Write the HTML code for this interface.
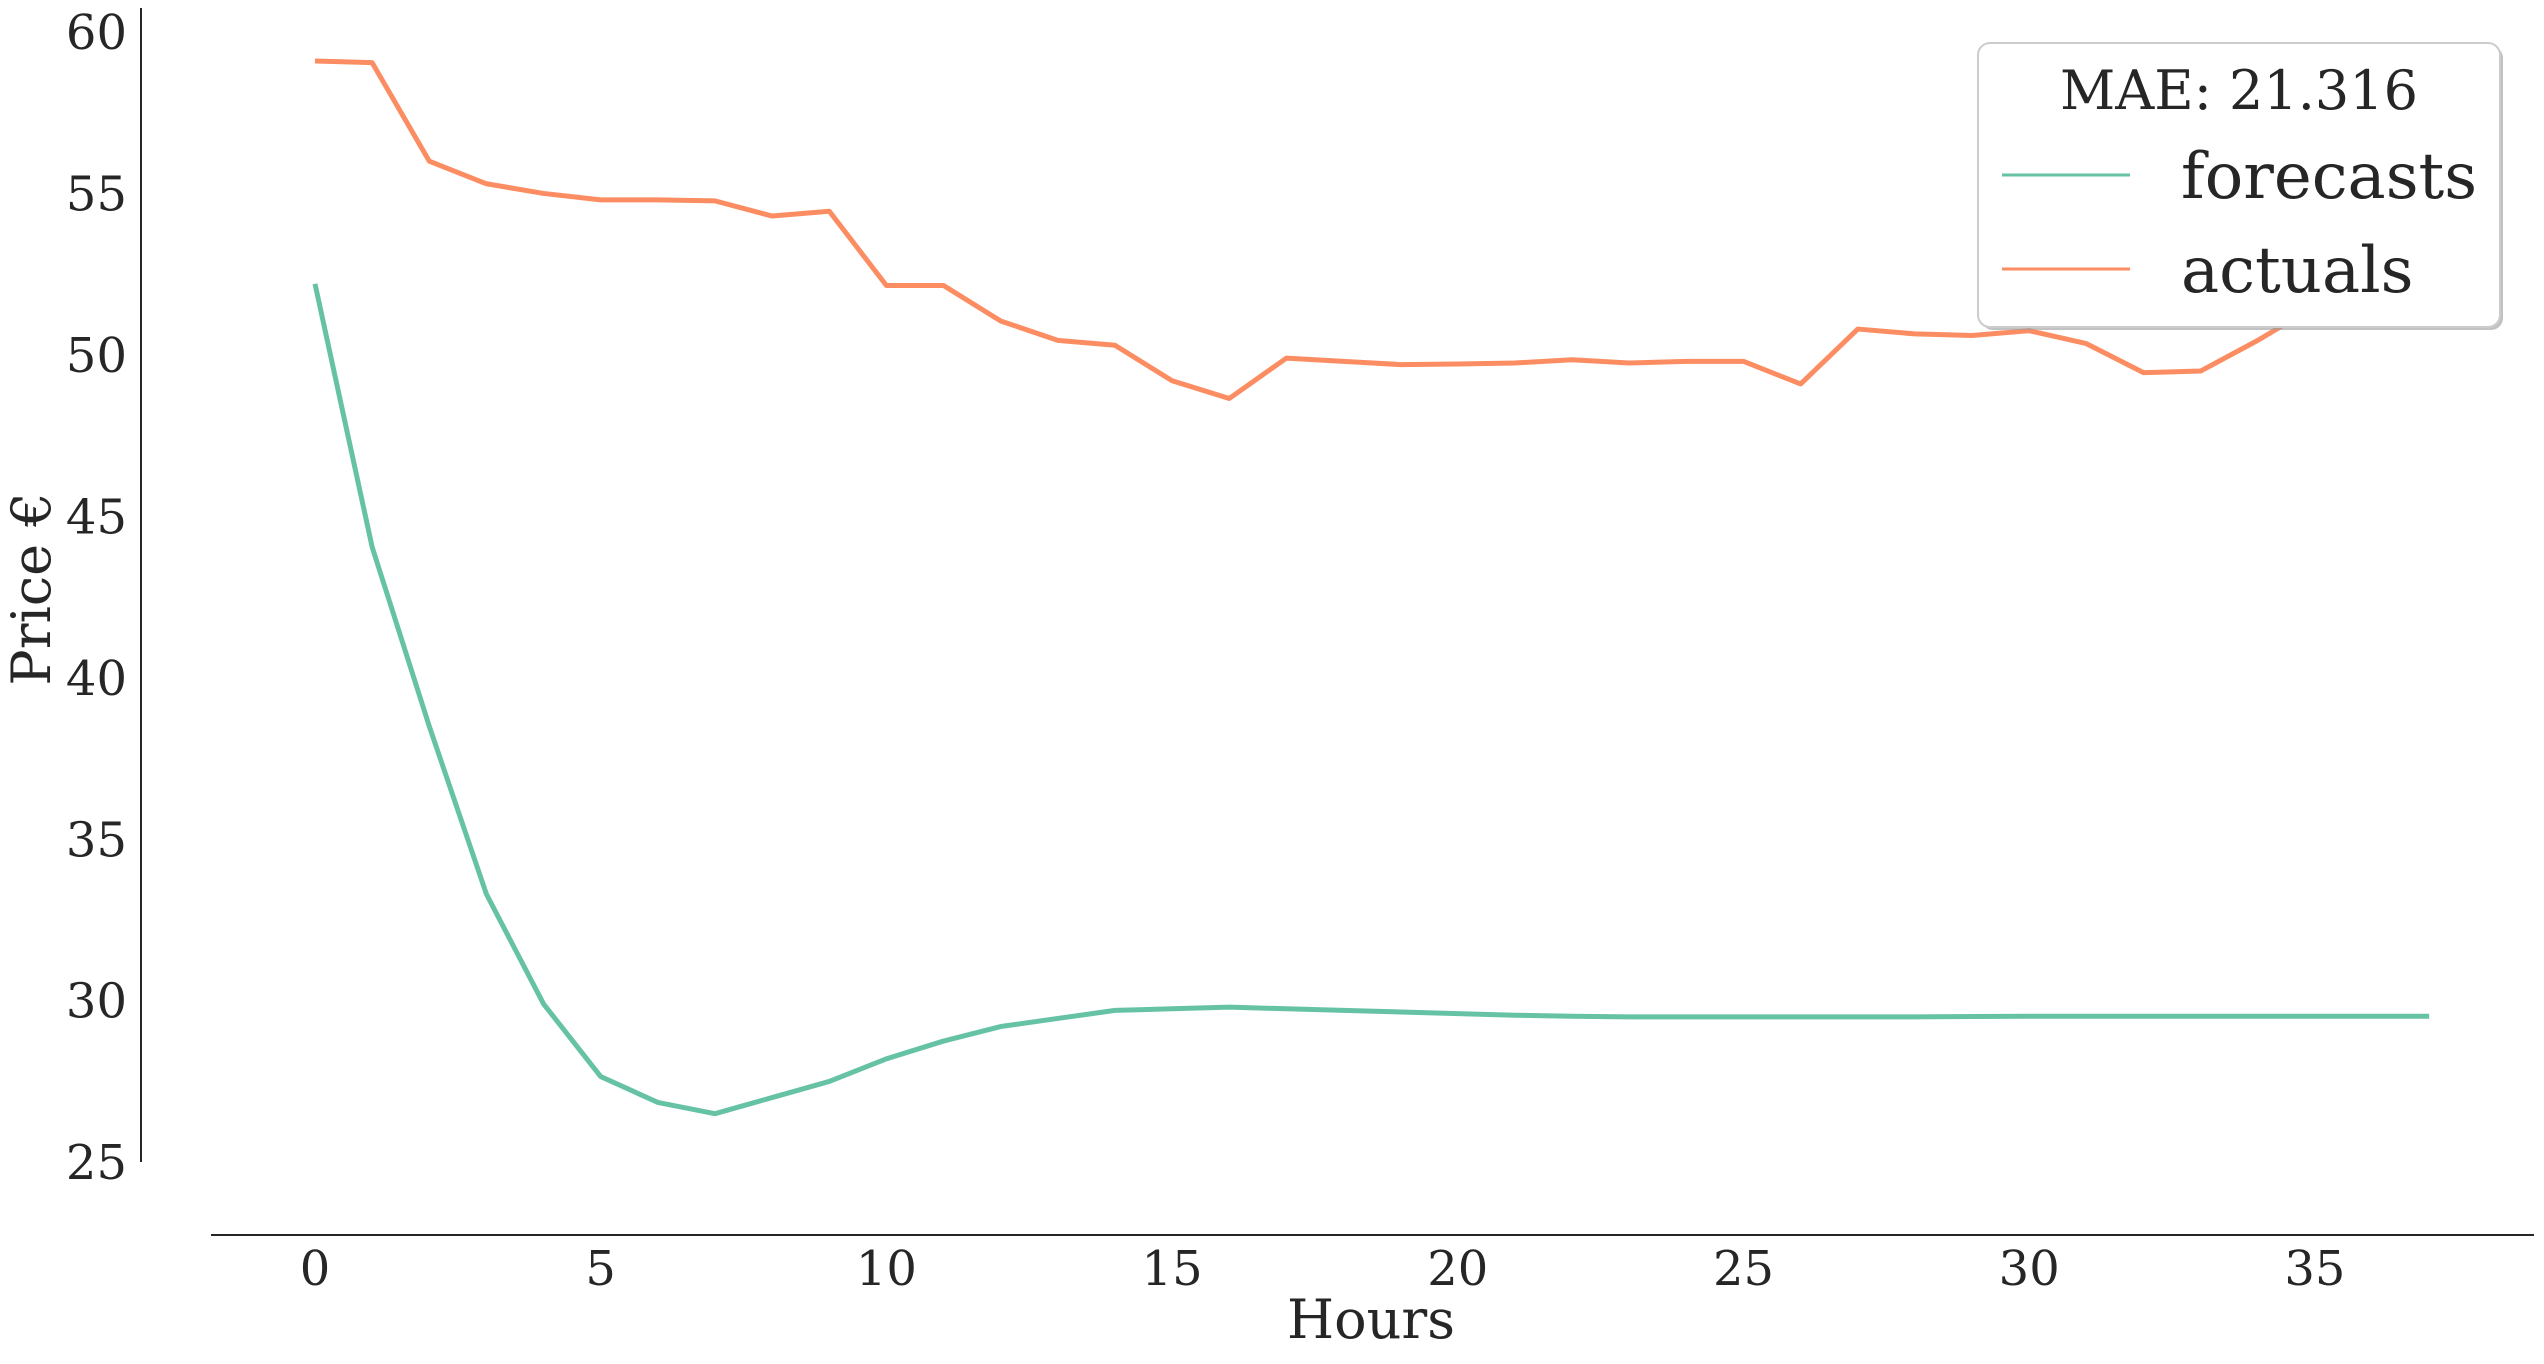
<!DOCTYPE html>
<html><head><meta charset="utf-8"><style>
body{margin:0;background:#fff}
svg text{font-family:"DejaVu Serif","Liberation Serif",serif;fill:#262626}
</style></head><body>
<svg id="chart" width="2544" height="1359" xmlns="http://www.w3.org/2000/svg">
<g id="axes"></g>
<g id="lines"></g>
<text x="1371" y="1338" font-size="54" text-anchor="middle">Hours</text>
<text transform="translate(50,589) rotate(-90)" font-size="54" text-anchor="middle">Price €</text>
<g>
<rect x="1981" y="46" width="522" height="284" rx="12" fill="#999" opacity="0.6"/>
<rect x="1978" y="43" width="522" height="284" rx="12" fill="#fff" stroke="#ccc" stroke-width="2"/>
<text x="2239" y="109" font-size="54" text-anchor="middle">MAE: 21.316</text>
<line x1="2002" y1="175" x2="2130" y2="175" stroke="#66c2a5" stroke-width="3"/>
<text x="2181" y="198" font-size="64">forecasts</text>
<line x1="2002" y1="269" x2="2130" y2="269" stroke="#fc8d62" stroke-width="3"/>
<text x="2181" y="292" font-size="64">actuals</text>
</g>
</svg>
<script>
const hours = Array.from({length:38},(_, i)=>i);
const forecasts = [52.2,44.05,38.5,33.3,29.9,27.65,26.85,26.5,27.0,27.5,28.2,28.75,29.2,29.45,29.7,29.75,29.8,29.75,29.7,29.65,29.6,29.55,29.52,29.5,29.5,29.5,29.5,29.5,29.5,29.51,29.52,29.52,29.52,29.52,29.52,29.52,29.52,29.52];
const actuals = [59.1,59.05,56.0,55.3,55.0,54.8,54.8,54.77,54.3,54.45,52.15,52.15,51.05,50.45,50.3,49.2,48.65,49.9,49.8,49.7,49.72,49.75,49.85,49.75,49.8,49.8,49.1,50.8,50.65,50.6,50.75,50.35,49.45,49.5,50.45,51.5,52.0,52.0];
const xTicks = [0,5,10,15,20,25,30,35];
const yTicks = [25,30,35,40,45,50,55,60];
const X = v => 315 + v*57.14;
const Y = v => 32 + (60-v)*32.29;
const NS = "http://www.w3.org/2000/svg";
const axes = document.getElementById('axes');
const lines = document.getElementById('lines');
function mk(tag, attrs, parent){const e=document.createElementNS(NS,tag);for(const k in attrs)e.setAttribute(k,attrs[k]);parent.appendChild(e);return e;}
let yl = mk('line',{x1:141,y1:8,x2:141,y2:1162,stroke:'#262626','stroke-width':2},axes);


let xl = mk('line',{x1:211,y1:1235,x2:2534,y2:1235,stroke:'#262626','stroke-width':2},axes);


yTicks.forEach(t=>{
  const e = mk('text',{x:127,y:Y(t)+17,'font-size':48,'text-anchor':'end'},axes);
  e.textContent = t;
  
  
});
xTicks.forEach(t=>{
  const e = mk('text',{x:X(t),y:1285,'font-size':48,'text-anchor':'middle'},axes);
  e.textContent = t;
  
  
});
function series(vals,color,name){
  const p = mk('polyline',{points:vals.map((v,i)=>X(hours[i])+','+Y(v)).join(' '),fill:'none',stroke:color,'stroke-width':5,'stroke-linejoin':'round'},lines);
  
  
}
series(forecasts,'#66c2a5','forecasts-line');
series(actuals,'#fc8d62','actuals-line');
</script>
</body></html>
